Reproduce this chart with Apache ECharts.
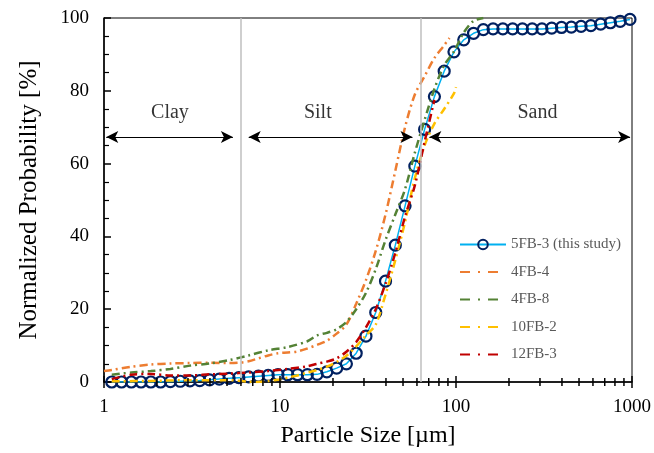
<!DOCTYPE html>
<html lang="en">
<head>
<meta charset="UTF-8">
<title>Particle size distribution</title>
<script src="https://cdn.jsdelivr.net/npm/echarts@6/dist/echarts.min.js"></script>
<style>
    html, body {margin: 0; padding: 0; background: #fff;}
    #main {width: 654px; height: 453px;}
</style>
</head>
<body>
<div id="main"></div>
<script>
// 5FB-3 (this study) - laser bins
var sizes5FB3 = [1.107, 1.258, 1.430, 1.624, 1.846, 2.098, 2.384, 2.710, 3.079, 3.499,
    3.977, 4.520, 5.136, 5.837, 6.633, 7.540, 8.568, 9.737, 11.07, 12.58,
    14.30, 16.24, 18.46, 20.98, 23.84, 27.10, 30.79, 34.99, 39.77, 45.20,
    51.36, 58.37, 66.33, 75.40, 85.68, 97.37, 110.7, 125.8, 143.0, 162.4,
    184.6, 209.8, 238.4, 271.0, 307.9, 349.9, 397.7, 452.0, 513.6, 583.7,
    663.3, 754.0, 856.8, 973.7];
var prob5FB3 = [0, 0, 0, 0, 0, 0, 0.1, 0.2, 0.3, 0.4,
    0.6, 0.8, 1.0, 1.2, 1.4, 1.6, 1.8, 2.0, 2.0, 2.0,
    2.0, 2.1, 2.8, 3.8, 5.0, 7.9, 12.6, 19.1, 27.7, 37.6,
    48.4, 59.3, 69.4, 78.4, 85.4, 90.7, 94.0, 95.8, 96.8, 97.0,
    97.0, 97.0, 97.0, 97.0, 97.0, 97.2, 97.4, 97.5, 97.7, 97.9,
    98.3, 98.7, 99.1, 99.6];

var sizes4FB4 = [1.0, 1.107, 1.430, 1.846, 2.384, 3.079, 3.977, 5.136, 5.837, 6.633,
    7.540, 8.568, 9.737, 11.07, 12.58, 14.30, 16.24, 18.46, 20.98, 23.84,
    27.10, 30.79, 34.99, 39.77, 45.20, 51.36, 58.37, 66.33, 75.40, 85.68, 91.8];
var prob4FB4 = [3.0, 3.3, 4.2, 4.8, 5.1, 5.2, 5.3, 5.2, 5.3, 5.7,
    6.5, 7.3, 7.9, 8.1, 8.4, 9.2, 10.2, 11.3, 13.3, 15.8,
    21.5, 28.0, 36.0, 46.0, 58.0, 70.0, 79.0, 84.0, 89.0, 92.5, 94.5];

var sizes4FB8 = [1.107, 1.430, 1.846, 2.384, 3.079, 3.977, 5.136, 6.633, 8.568, 11.07,
    14.30, 16.24, 18.46, 20.98, 23.84, 27.10, 30.79, 34.99, 39.77, 45.20,
    51.36, 58.37, 66.33, 75.40, 85.68, 97.37, 110.7, 125.8, 143.0];
var prob4FB8 = [2.0, 2.6, 3.0, 3.6, 4.5, 5.1, 6.0, 7.3, 8.7, 9.6,
    11.2, 12.8, 13.5, 14.5, 16.5, 20.0, 24.5, 31.0, 39.0, 46.0,
    53.0, 63.0, 72.0, 80.5, 87.0, 90.8, 96.0, 99.2, 100];

var sizes10FB2 = [1.107, 1.846, 3.079, 5.136, 6.633, 7.540, 8.568, 9.737, 11.07, 12.58,
    14.30, 16.24, 18.46, 20.98, 23.84, 27.10, 30.79, 34.99, 39.77, 45.20,
    51.36, 58.37, 66.33, 75.40, 85.68, 97.37, 100];
var prob10FB2 = [0.2, 0.3, 0.5, 0.5, 0.1, 0.0, 0.3, 0.6, 1.2, 1.8,
    2.6, 3.3, 4.2, 5.5, 7.2, 9.8, 12.8, 15.8, 24.0, 33.5,
    44.0, 56.0, 65.0, 71.0, 75.0, 79.3, 81.0];

var sizes12FB3 = [1.107, 1.430, 1.846, 2.384, 3.079, 3.977, 5.136, 6.633, 8.568, 11.07,
    14.30, 16.24, 18.46, 20.98, 23.84, 27.10, 30.79, 34.99, 39.77, 45.20,
    51.36, 58.37, 66.33, 75.40];
var prob12FB3 = [0.8, 2.0, 2.2, 1.8, 1.8, 2.1, 2.3, 2.6, 3.0, 3.6,
    4.3, 5.0, 5.6, 6.5, 8.3, 11.0, 15.0, 20.0, 27.0, 35.5,
    45.5, 54.0, 66.0, 77.5];

var seriesNames = ['5FB-3 (this study)', '4FB-4', '4FB-8', '10FB-2', '12FB-3'];
var dashColors = ['#ed7d31', '#548235', '#ffc000', '#c00000'];

// class boundaries and labels
var boundaries = [6, 63];
var zoneNames = ['Clay', 'Silt', 'Sand'];
var zoneArrows = [[1.03, 5.4], [6.64, 56.6], [70.6, 975]];
var zoneLabelX = [2.37, 16.4, 290];
var arrowY = 67.3;
var labelY = 73.9;

var xMajorTicks = [1, 10, 100, 1000];
var xMinorTicks = [2, 3, 4, 5, 6, 7, 8, 9, 20, 30, 40, 50, 60, 70, 80, 90,
    200, 300, 400, 500, 600, 700, 800, 900];

function pairs(xs, ys) {
    return xs.map(function (x, i) { return [x, ys[i]]; });
}

var serif = 'Liberation Serif';
var dash = [8, 4, 2, 4];

function dashSeries(name, data, color) {
    return {
        name: name, type: 'line', data: data, smooth: 0.3,
        symbol: 'none', showSymbol: false,
        lineStyle: {color: color, width: 2.5, type: dash},
        itemStyle: {color: color},
        z: 3
    };
}

// legend entries: dashed series show only their line
var legendData = seriesNames.map(function (n, i) {
    if (i === 0) return {name: n};
    return {name: n, itemStyle: {opacity: 0}, lineStyle: {type: [10, 8, 2, 8]}};
});

var myChart = echarts.init(document.getElementById('main'));

var option = {
    animation: false,
    grid: {left: 104, right: 21, top: 18, bottom: 71, show: true, borderColor: '#000', borderWidth: 1},
    legend: {
        data: legendData, orient: 'vertical', left: 454, top: 232,
        itemWidth: 46, itemHeight: 12, itemGap: 12.5,
        textStyle: {fontFamily: serif, fontSize: 15, color: '#595959'}
    },
    xAxis: {
        type: 'log', logBase: 10, min: 1, max: 1000,
        name: 'Particle Size [µm]', nameLocation: 'middle', nameGap: 42,
        nameTextStyle: {fontFamily: serif, fontSize: 24, color: '#000'},
        axisLine: {lineStyle: {color: '#000', width: 1.5}},
        axisTick: {show: false},
        axisLabel: {
            fontFamily: serif, fontSize: 19, color: '#000', margin: 16,
            formatter: function (v) { return String(Math.round(v)); }
        },
        splitLine: {show: false}
    },
    yAxis: {
        type: 'value', min: 0, max: 100, interval: 20,
        name: 'Normalized Probability [%]', nameLocation: 'middle', nameGap: 62,
        nameTextStyle: {fontFamily: serif, fontSize: 25, color: '#000'},
        axisLine: {show: true, lineStyle: {color: '#000', width: 1.5}},
        axisTick: {inside: true, length: 7, lineStyle: {color: '#000', width: 1.5}},
        minorTick: {show: true, splitNumber: 4, length: 5, lineStyle: {color: '#000', width: 1.2}},
        axisLabel: {fontFamily: serif, fontSize: 19, color: '#000', margin: 15},
        splitLine: {show: false}
    },
    series: [
        {
            name: 'boundaries', type: 'line', data: [], silent: true,
            markLine: {
                silent: true, symbol: 'none', animation: false,
                label: {show: false},
                lineStyle: {color: '#bfbfbf', width: 1.5, type: 'solid'},
                data: boundaries.map(function (b) { return {xAxis: b}; })
            }
        },
        {
            name: 'arrows', type: 'line', data: [], silent: true,
            markLine: {
                silent: true, symbol: ['arrow', 'arrow'], symbolSize: [9, 12], animation: false,
                label: {show: false},
                lineStyle: {color: '#000', width: 1, type: 'solid'},
                data: zoneArrows.map(function (a) {
                    return [{coord: [a[0], arrowY]}, {coord: [a[1], arrowY]}];
                })
            }
        },
        {
            name: 'zones', type: 'scatter', silent: true, symbolSize: 0,
            data: zoneNames.map(function (n, i) { return [zoneLabelX[i], labelY, n]; }),
            label: {
                show: true, position: 'inside', color: '#000',
                fontFamily: serif, fontSize: 20,
                formatter: function (p) { return p.value[2]; }
            }
        },
        {
            name: seriesNames[0], type: 'line', data: pairs(sizes5FB3, prob5FB3),
            symbol: 'circle', symbolSize: 11,
            lineStyle: {color: '#00b0f0', width: 1.5},
            itemStyle: {color: 'rgba(255,255,255,0)', borderColor: '#002060', borderWidth: 2.2},
            z: 2
        },
        dashSeries(seriesNames[1], pairs(sizes4FB4, prob4FB4), dashColors[0]),
        dashSeries(seriesNames[2], pairs(sizes4FB8, prob4FB8), dashColors[1]),
        dashSeries(seriesNames[3], pairs(sizes10FB2, prob10FB2), dashColors[2]),
        dashSeries(seriesNames[4], pairs(sizes12FB3, prob12FB3), dashColors[3]),
        {
            name: 'xticks', type: 'custom', silent: true, clip: false, z: 10,
            data: xMajorTicks.map(function (v) { return [v, 0, 1]; })
                .concat(xMinorTicks.map(function (v) { return [v, 0, 0]; })),
            encode: {x: 0, y: 1},
            renderItem: function (params, api) {
                var p = api.coord([api.value(0), 0]);
                var h = api.value(2) ? 6 : 4;
                return {
                    type: 'line',
                    shape: {x1: p[0], y1: p[1] - h, x2: p[0], y2: p[1] + h},
                    style: {stroke: '#000', lineWidth: 1.5}
                };
            }
        }
    ]
};

myChart.setOption(option);
</script>
</body>
</html>
